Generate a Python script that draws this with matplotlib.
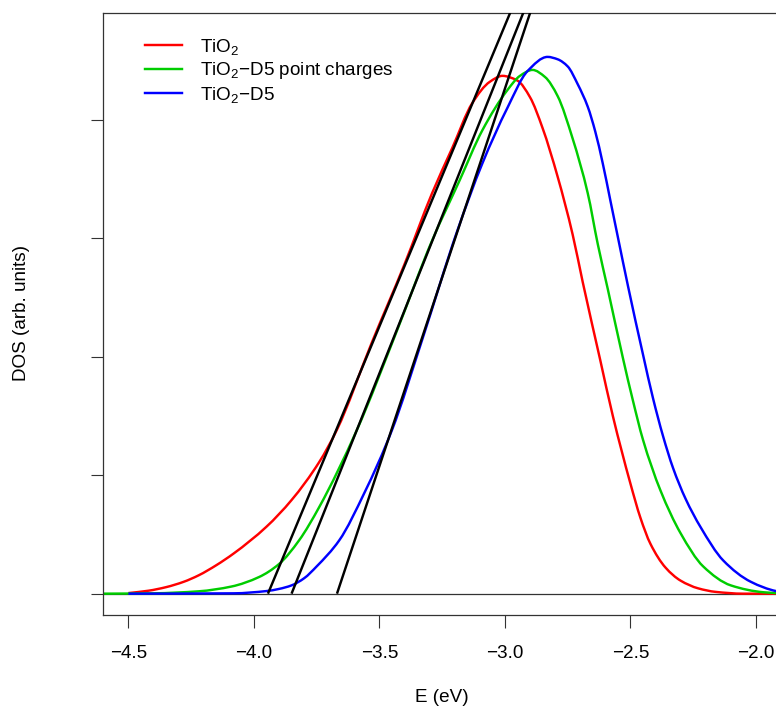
import numpy as np
import matplotlib
matplotlib.use('Agg')
import matplotlib.pyplot as plt
from matplotlib.path import Path
from matplotlib.patches import PathPatch
from matplotlib.lines import Line2D

plt.rcParams['font.family'] = ['Liberation Sans', 'DejaVu Sans']
plt.rcParams['mathtext.fontset'] = 'custom'
plt.rcParams['mathtext.rm'] = 'Liberation Sans'
plt.rcParams['mathtext.it'] = 'Liberation Sans:italic'
plt.rcParams['mathtext.default'] = 'regular'

# ---------------- data ----------------
labels = ['TiO$_2$', 'TiO$_2$\u2212D5 point charges', 'TiO$_2$\u2212D5']
colors = ['#FF0000', '#00CD00', '#0000FF']

red_x = [-4.50, -4.42, -4.35, -4.28, -4.22, -4.15, -4.08, -3.95, -3.85, -3.74,
         -3.67, -3.53, -3.40, -3.29, -3.21, -3.13, -3.06, -3.01, -2.95, -2.90,
         -2.85, -2.79, -2.73, -2.69, -2.62, -2.57, -2.50, -2.46, -2.42, -2.36,
         -2.30, -2.23, -2.16, -2.05, -1.90]
red_y = [0.005, 0.025, 0.055, 0.10, 0.155, 0.24, 0.34, 0.565, 0.79, 1.11,
         1.38, 2.12, 2.78, 3.38, 3.76, 4.14, 4.32, 4.37, 4.33, 4.19,
         3.93, 3.52, 3.03, 2.63, 1.97, 1.50, 0.93, 0.64, 0.42, 0.22,
         0.11, 0.045, 0.015, 0.0, 0.0]

green_x = [-4.60, -4.40, -4.22, -4.09, -3.98, -3.90, -3.82, -3.74, -3.59, -3.43,
           -3.29, -3.18, -3.09, -2.99, -2.94, -2.89, -2.84, -2.79, -2.73, -2.67,
           -2.63, -2.59, -2.53, -2.49, -2.45, -2.38, -2.30, -2.21, -2.10, -1.97,
           -1.90]
green_y = [0.00, 0.003, 0.02, 0.06, 0.14, 0.25, 0.45, 0.73, 1.38, 2.22,
           2.98, 3.49, 3.91, 4.25, 4.37, 4.42, 4.36, 4.20, 3.84, 3.38,
           2.95, 2.57, 1.99, 1.63, 1.30, 0.87, 0.51, 0.23, 0.07, 0.012,
           0.003]

blue_x = [-4.50, -4.08, -3.95, -3.90, -3.85, -3.80, -3.75, -3.66, -3.56, -3.45,
          -3.33, -3.19, -3.09, -2.99, -2.91, -2.83, -2.79, -2.75, -2.71, -2.67,
          -2.64, -2.61, -2.58, -2.55, -2.51, -2.45, -2.41, -2.37, -2.33, -2.28,
          -2.22, -2.13, -2.02, -1.92, -1.90]
blue_y = [0.00, 0.003, 0.022, 0.04, 0.07, 0.13, 0.23, 0.45, 0.85, 1.38,
          2.14, 3.06, 3.63, 4.10, 4.41, 4.53, 4.51, 4.45, 4.30, 4.11,
          3.90, 3.63, 3.32, 3.01, 2.60, 2.02, 1.65, 1.33, 1.06, 0.80,
          0.56, 0.28, 0.10, 0.022, 0.015]

# tangent (onset) lines: x-intercept on baseline and slope
onset_x = [-3.944, -3.850, -3.669]
onset_slope = [5.08, 5.31, 6.37]

xticks = [-4.5, -4.0, -3.5, -3.0, -2.5, -2.0]
xtick_labels = ['\u22124.5', '\u22124.0', '\u22123.5', '\u22123.0', '\u22122.5', '\u22122.0']
yticks = [0, 1, 2, 3, 4]


def smooth_path(xs, ys):
    """Cubic Bezier path through the given points (PCHIP-style tangents)."""
    x = np.asarray(xs, float)
    y = np.asarray(ys, float)
    h = np.diff(x)
    d = np.diff(y) / h
    n = len(x)
    m = np.zeros(n)
    for i in range(1, n - 1):
        if d[i - 1] * d[i] > 0:
            w1 = 2 * h[i] + h[i - 1]
            w2 = h[i] + 2 * h[i - 1]
            m[i] = (w1 + w2) / (w1 / d[i - 1] + w2 / d[i])
    m[0] = d[0] if d[0] * (d[1] if n > 2 else d[0]) > 0 else 0.0
    m[-1] = d[-1] if d[-1] * (d[-2] if n > 2 else d[-1]) > 0 else 0.0
    verts = [(x[0], y[0])]
    codes = [Path.MOVETO]
    for i in range(n - 1):
        verts += [(x[i] + h[i] / 3, y[i] + m[i] * h[i] / 3),
                  (x[i + 1] - h[i] / 3, y[i + 1] - m[i + 1] * h[i] / 3),
                  (x[i + 1], y[i + 1])]
        codes += [Path.CURVE4] * 3
    return Path(verts, codes)


# ---------------- figure ----------------
W, H = 776, 711
fig = plt.figure(figsize=(W / 100, H / 100), dpi=100)
L, R, B, T = 103.3, 781.0, 615.0, 12.7
ax = fig.add_axes([L / W, 1 - B / H, (R - L) / W, (B - T) / H])
ax.set_xlim(-4.6, -1.9)
ax.set_ylim(-0.18, 4.903)

edge = '#333333'
ax.axhline(0, color=edge, lw=0.9, zorder=1)

lw = 1.75
series = [(red_x, red_y), (green_x, green_y), (blue_x, blue_y)]
handles = []
for (xs, ys), c, lab in zip(series, colors, labels):
    patch = PathPatch(smooth_path(xs, ys), fill=False, edgecolor=c, lw=lw,
                      zorder=2, joinstyle='round', capstyle='butt')
    ax.add_patch(patch)
    handles.append(Line2D([], [], color=c, lw=lw, label=lab))

for x0, s in zip(onset_x, onset_slope):
    ytop = 6.0
    ax.plot([x0, x0 + ytop / s], [0.0, ytop], color='black', lw=lw, zorder=3,
            solid_capstyle='butt')

ax.set_xticks(xticks)
ax.set_xticklabels(xtick_labels, fontsize=13.6)
ax.set_yticks(yticks)
ax.set_yticklabels([])
ax.tick_params(axis='both', direction='out', color=edge, width=0.8)
ax.tick_params(axis='x', length=9.0, pad=12.5)
ax.tick_params(axis='y', length=8.4)

for sp in ['left', 'top', 'bottom']:
    ax.spines[sp].set_color(edge)
    ax.spines[sp].set_linewidth(0.9)
ax.spines['right'].set_visible(False)

fig.text(442 / W, 1 - 697 / H, 'E (eV)', ha='center', va='center', fontsize=13.6)
fig.text(22 / W, 1 - 313 / H, 'DOS (arb. units)', ha='center', va='center',
         rotation=90, fontsize=13.6)

ax.legend(handles=handles, loc='upper left',
          bbox_to_anchor=((145 - L) / (R - L), (B - 37) / (B - T)),
          frameon=False, borderpad=0, borderaxespad=0,
          handlelength=1.96, handletextpad=0.95, labelspacing=0.18,
          fontsize=13.6)

fig.savefig('out.png', dpi=100)
